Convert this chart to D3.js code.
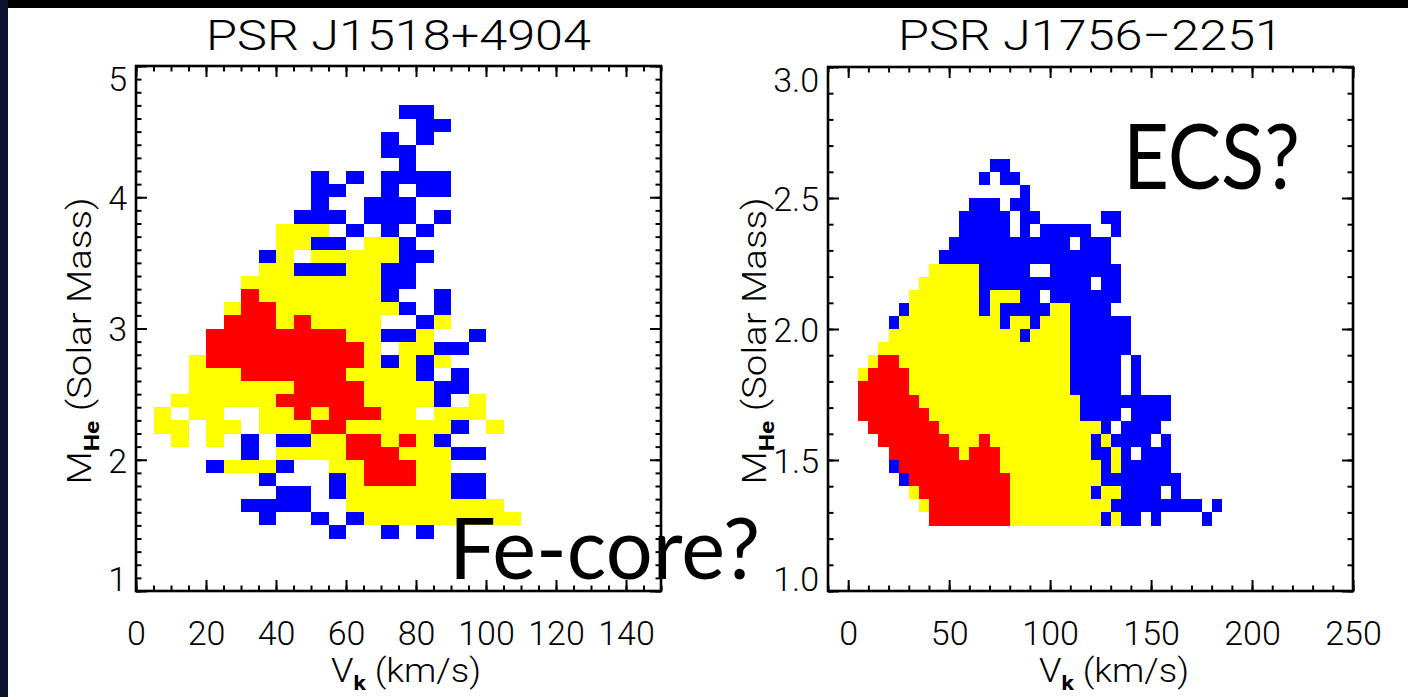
<!DOCTYPE html>
<html><head><meta charset="utf-8">
<script src="https://cdn.jsdelivr.net/npm/d3@7"></script>
<style>body{margin:0;background:#fff;overflow:hidden}svg{display:block}</style>
</head><body>
<svg id="c" width="1408" height="697"></svg>
<script>
// ---------- data ----------
// confidence level of each (Vk, M_He) bin: 1 = inner (red), 2 = middle (yellow), 3 = outer (blue)
const levelColor = {1: "#ff0000", 2: "#ffff00", 3: "#0000ff"};

// PSR J1518+4904 : bins 5 km/s x 0.1 Msun ; row = lower edge of M_He bin, runs = [Vk from, Vk to, level]
const leftMHe = [4.6,4.5,4.4,4.3,4.2,4.1,4.0,3.9,3.8,3.7,3.6,3.5,3.4,3.3,3.2,3.1,3.0,2.9,2.8,2.7,2.6,2.5,2.4,2.3,2.2,2.1,2.0,1.9,1.8,1.7,1.6,1.5,1.4];
const leftRuns = [
  [[75,85,3]],
  [[80,90,3]],
  [[70,75,3],[80,85,3]],
  [[70,80,3]],
  [[75,80,3]],
  [[50,55,3],[60,65,3],[70,90,3]],
  [[50,60,3],[70,75,3],[80,90,3]],
  [[50,55,3],[65,80,3]],
  [[45,60,3],[65,80,3],[85,90,3]],
  [[40,55,2],[60,65,3],[70,75,3],[80,85,3]],
  [[40,50,2],[50,60,3],[65,75,2],[75,80,3]],
  [[35,40,3],[40,45,2],[50,75,2],[75,85,3]],
  [[35,45,2],[45,60,3],[60,70,2],[70,80,3]],
  [[30,70,2],[70,80,3]],
  [[30,35,1],[35,70,2],[70,75,3],[85,90,3]],
  [[25,30,2],[30,40,1],[40,75,2],[75,80,3],[85,90,3]],
  [[25,40,1],[40,45,2],[45,50,1],[50,70,2],[80,85,3],[85,90,2]],
  [[20,60,1],[60,70,2],[70,80,3],[80,85,2],[95,100,3]],
  [[20,65,1],[65,70,2],[75,85,2],[85,95,3]],
  [[15,20,2],[20,65,1],[65,70,2],[70,75,3],[75,80,2],[80,85,3],[85,90,2]],
  [[15,30,2],[30,60,1],[60,80,2],[80,85,3],[90,95,3]],
  [[15,45,2],[45,65,1],[65,85,2],[85,95,3]],
  [[10,40,2],[40,65,1],[65,85,2],[85,90,3],[95,100,2]],
  [[5,10,2],[15,25,2],[35,45,2],[45,50,1],[50,55,2],[55,70,1],[70,80,2],[85,100,2]],
  [[5,15,2],[20,30,2],[35,50,2],[50,60,1],[60,90,2],[90,95,3],[100,105,2]],
  [[10,15,2],[20,25,2],[30,35,3],[40,50,3],[50,60,2],[60,70,1],[70,75,2],[75,80,1],[80,85,2],[85,90,3]],
  [[30,35,3],[40,60,2],[60,75,1],[75,90,2],[90,100,3]],
  [[20,25,3],[25,40,2],[40,45,3],[55,65,2],[65,80,1],[80,90,2]],
  [[35,40,3],[55,60,3],[60,65,2],[65,80,1],[80,90,2],[90,100,3]],
  [[40,50,3],[55,60,3],[60,90,2],[90,100,3]],
  [[30,50,3],[60,105,2]],
  [[35,40,3],[50,55,3],[60,65,3],[65,110,2]],
  [[55,60,3],[70,75,3],[80,85,3]]
];

// PSR J1756-2251 : bins 5 km/s x 0.05 Msun
const rightMHe = [2.60,2.55,2.50,2.45,2.40,2.35,2.30,2.25,2.20,2.15,2.10,2.05,2.00,1.95,1.90,1.85,1.80,1.75,1.70,1.65,1.60,1.55,1.50,1.45,1.40,1.35,1.30,1.25];
const rightRuns = [
  [[70,80,3]],
  [[65,70,3],[75,85,3]],
  [[85,90,3]],
  [[60,75,3],[80,90,3]],
  [[55,80,3],[85,95,3],[125,135,3]],
  [[55,80,3],[85,90,3],[95,120,3],[130,135,3]],
  [[50,110,3],[115,130,3]],
  [[45,130,3]],
  [[40,65,2],[65,90,3],[100,135,3]],
  [[35,65,2],[65,120,3],[125,135,3]],
  [[30,65,2],[65,70,3],[70,85,2],[85,95,3],[100,135,3]],
  [[25,30,3],[30,65,2],[65,70,3],[70,75,2],[75,100,3],[100,110,2],[110,130,3]],
  [[20,25,3],[25,75,2],[75,80,3],[80,90,2],[90,95,3],[95,110,2],[110,140,3]],
  [[20,85,2],[85,90,3],[90,110,2],[110,140,3]],
  [[15,110,2],[110,140,3]],
  [[10,15,2],[15,25,1],[25,110,2],[110,135,3],[140,145,3]],
  [[5,10,2],[10,30,1],[30,110,2],[110,135,3],[140,145,3]],
  [[5,30,1],[30,110,2],[110,135,3],[140,145,3]],
  [[5,35,1],[35,115,2],[115,160,3]],
  [[5,40,1],[40,115,2],[115,135,3],[140,160,3]],
  [[10,45,1],[45,125,2],[125,130,3],[135,155,3]],
  [[15,50,1],[50,65,2],[65,70,1],[70,120,2],[120,125,3],[125,130,2],[130,150,3],[155,160,3]],
  [[20,55,1],[55,60,2],[60,75,1],[75,120,2],[120,130,3],[130,135,2],[135,140,3],[145,160,3]],
  [[20,25,3],[25,75,1],[75,125,2],[125,130,3],[130,135,2],[135,160,3]],
  [[25,30,3],[30,80,1],[80,125,2],[125,165,3]],
  [[30,35,2],[35,80,1],[80,120,2],[120,125,3],[125,135,2],[135,155,3],[160,165,3]],
  [[35,40,2],[40,80,1],[80,130,2],[130,175,3],[180,185,3]],
  [[40,80,1],[80,125,2],[125,130,3],[130,135,2],[135,145,3],[150,155,3],[175,180,3]]
];

const leftXTicks = [0,20,40,60,80,100,120,140];
const leftYTicks = [1,2,3,4,5];
const rightXTicks = [0,50,100,150,200,250];
const rightYTicks = [1.0,1.5,2.0,2.5,3.0];
const titles = ["PSR J1518+4904", "PSR J1756\u22122251"];
const notes = ["Fe-core?", "ECS?"];

// ---------- drawing ----------
const W = 1408, H = 697;
const svg = d3.select("#c");
svg.append("rect").attr("width", W).attr("height", H).attr("fill", "#fff");
svg.append("rect").attr("x", 0).attr("y", 0).attr("width", W).attr("height", 8).attr("fill", "#000");
svg.append("rect").attr("x", 0).attr("y", 0).attr("width", 8).attr("height", H).attr("fill", "#0b1230");

const labelFont = "Roboto, 'Liberation Sans', sans-serif";
const labelWeight = 300;

function panel(cfg) {
  const x = d3.scaleLinear().domain(cfg.xDomain).range([cfg.left, cfg.left + cfg.width]);
  const y = d3.scaleLinear().domain(cfg.yDomain).range([cfg.top + cfg.height, cfg.top]);
  const g = svg.append("g");

  const cells = g.append("g").attr("shape-rendering", "crispEdges");
  cfg.mhe.forEach((m, i) => {
    cfg.runs[i].forEach(([a, b, l]) => {
      cells.append("rect")
        .attr("x", x(a)).attr("y", y(m + cfg.dm))
        .attr("width", x(b) - x(a)).attr("height", y(m) - y(m + cfg.dm))
        .attr("fill", levelColor[l]);
    });
  });

  const maj = 11, mnr = 5.5;
  const xMinor = d3.range(cfg.xDomain[0], cfg.xDomain[1] + 1e-9, cfg.xMinorStep);
  const yMinor = d3.range(cfg.yDomain[0], cfg.yDomain[1] + 1e-9, cfg.yMinorStep);
  const B = cfg.top + cfg.height, R = cfg.left + cfg.width;
  const mk = [() => d3.axisBottom(x), () => d3.axisTop(x), () => d3.axisLeft(y), () => d3.axisRight(y)];
  const trs = [`translate(0,${B})`, `translate(0,${cfg.top})`, `translate(${cfg.left},0)`, `translate(${R},0)`];
  const majors = [cfg.xTicks, cfg.xTicks, cfg.yTicks, cfg.yTicks];
  const minors = [xMinor, xMinor, yMinor, yMinor];

  mk.forEach((make, k) => {
    const a1 = g.append("g").attr("transform", trs[k])
      .call(make().tickValues(minors[k]).tickSize(-mnr).tickSizeOuter(0).tickFormat(""));
    const showLab = (k === 0 || k === 2);
    const a2 = g.append("g").attr("transform", trs[k])
      .call(make().tickValues(majors[k]).tickSizeInner(-maj).tickSizeOuter(0)
        .tickPadding(k === 0 ? 30 : 9)
        .tickFormat(showLab ? (k === 0 ? cfg.xFmt : cfg.yFmt) : ""));
    [a1, a2].forEach(a => {
      a.select(".domain").remove();
      a.selectAll("line").attr("stroke", "#000").attr("stroke-width", 2);
    });
    a2.selectAll("text").attr("font-family", labelFont).attr("font-weight", labelWeight)
      .attr("font-size", 34).attr("fill", "#000");
    if (k === 2) {
      a2.selectAll("text").attr("dy", d => d === cfg.yDomain[1] ? "0.72em" : d === cfg.yDomain[0] ? "-0.02em" : "0.36em");
    }
  });

  g.append("rect").attr("x", cfg.left).attr("y", cfg.top).attr("width", cfg.width).attr("height", cfg.height)
    .attr("fill", "none").attr("stroke", "#000").attr("stroke-width", 2.6);

  // title
  g.append("text").attr("x", cfg.left + cfg.width / 2).attr("y", 50)
    .attr("text-anchor", "middle").attr("font-family", labelFont).attr("font-weight", labelWeight)
    .attr("font-size", 42)
    .attr("textLength", 385).attr("lengthAdjust", "spacingAndGlyphs").text(cfg.title);

  // x title
  const xt = g.append("text").attr("x", cfg.xTitleX).attr("y", 682)
    .attr("text-anchor", "middle").attr("font-family", labelFont).attr("font-weight", labelWeight)
    .attr("font-size", 33).attr("textLength", 150).attr("lengthAdjust", "spacingAndGlyphs");
  xt.append("tspan").text("V");
  xt.append("tspan").attr("font-size", 21).attr("dy", 8).attr("font-weight", 700).text("k");
  xt.append("tspan").attr("dy", -8).text(" (km/s)");

  // y title
  const yt = g.append("text")
    .attr("transform", `translate(${cfg.yTitleX},341) rotate(-90)`)
    .attr("text-anchor", "middle").attr("font-family", labelFont).attr("font-weight", labelWeight)
    .attr("font-size", 33).attr("textLength", 287).attr("lengthAdjust", "spacingAndGlyphs");
  yt.append("tspan").text("M");
  yt.append("tspan").attr("font-size", 21).attr("dy", 8).attr("font-weight", 700).text("He");
  yt.append("tspan").attr("dy", -8).text(" (Solar Mass)");
  return {x, y};
}

panel({left: 136, top: 66, width: 525, height: 525, xDomain: [0, 150], yDomain: [1, 5],
  xTicks: leftXTicks, yTicks: leftYTicks, xMinorStep: 5, yMinorStep: 0.1,
  mhe: leftMHe, runs: leftRuns, dm: 0.1, title: titles[0],
  xFmt: d3.format("d"), yFmt: d3.format("d"), yTitleX: 91, xTitleX: 406});

panel({left: 828, top: 67, width: 525, height: 524, xDomain: [-10, 250], yDomain: [1, 3],
  xTicks: rightXTicks, yTicks: rightYTicks, xMinorStep: 10, yMinorStep: 0.1,
  mhe: rightMHe, runs: rightRuns, dm: 0.05, title: titles[1],
  xFmt: d3.format("d"), yFmt: d3.format(".1f"), yTitleX: 766, xTitleX: 1114});

// slide annotations
const noteFont = "Lato, 'Open Sans', sans-serif";
svg.append("text").attr("x", 449).attr("y", 579).attr("font-family", noteFont).attr("font-size", 86)
  .attr("textLength", 311).attr("lengthAdjust", "spacingAndGlyphs").text(notes[0]);
svg.append("text").attr("x", 1123).attr("y", 189).attr("font-family", noteFont).attr("font-size", 91)
  .attr("textLength", 177).attr("lengthAdjust", "spacingAndGlyphs").text(notes[1]);
</script>
</body></html>
